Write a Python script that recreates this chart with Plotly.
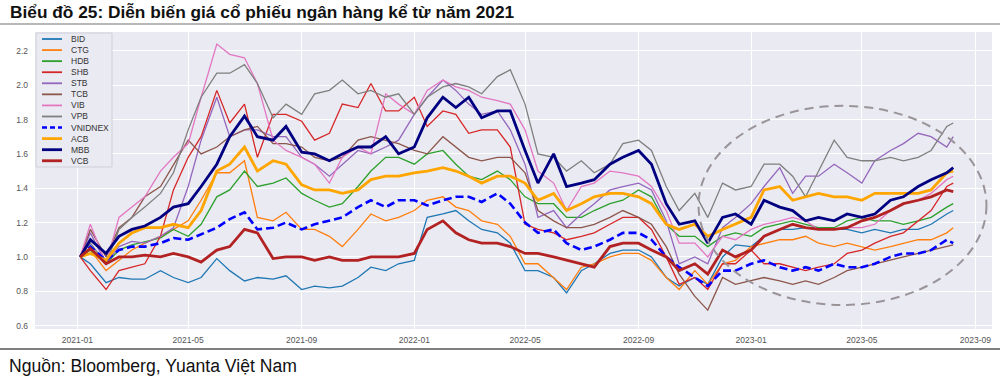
import plotly.graph_objects as go

# ---------------- data (semi-monthly samples) ----------------
dates = ["2021-01-04"]
for _y in (2021, 2022, 2023):
    for _m in range(1, 13):
        for _d in (1, 15):
            if (_y, _m, _d) == (2021, 1, 1):
                continue
            if _y == 2023 and _m > 7:
                continue
            dates.append(f"{_y}-{_m:02d}-{_d:02d}")
dates += ["2023-08-01", "2023-08-08"]

BID = [1.00, 0.96, 0.85, 0.88, 0.87, 0.87, 0.92, 0.88, 0.85, 0.88, 0.99, 0.92, 0.86, 0.88, 0.87, 0.89,
       0.81, 0.83, 0.82, 0.83, 0.88, 0.94, 0.92, 0.96, 0.98, 1.23, 1.25, 1.27, 1.21, 1.16, 1.14, 1.08,
       0.92, 0.92, 0.88, 0.79, 0.92, 0.96, 1.02, 1.04, 1.04, 1.00, 0.88, 0.83, 0.88, 0.84, 1.00, 1.07,
       1.06, 1.12, 1.16, 1.16, 1.17, 1.17, 1.16, 1.16, 1.14, 1.16, 1.14, 1.16, 1.16, 1.19, 1.25, 1.27]
CTG = [1.00, 1.04, 0.92, 0.98, 1.04, 1.08, 1.12, 1.16, 1.21, 1.33, 1.49, 1.49, 1.56, 1.23, 1.21, 1.26,
       1.16, 1.16, 1.12, 1.06, 1.16, 1.25, 1.21, 1.23, 1.27, 1.33, 1.35, 1.29, 1.27, 1.21, 1.19, 1.12,
       0.96, 0.96, 0.88, 0.81, 0.94, 0.96, 1.00, 1.02, 1.02, 0.98, 0.88, 0.81, 0.92, 0.84, 0.96, 0.98,
       1.06, 1.08, 1.10, 1.10, 1.12, 1.08, 1.06, 1.08, 1.06, 1.04, 1.06, 1.08, 1.10, 1.10, 1.14, 1.17]
HDB = [1.00, 1.04, 0.96, 1.04, 1.07, 1.09, 1.11, 1.16, 1.12, 1.19, 1.35, 1.39, 1.50, 1.41, 1.43, 1.46,
       1.37, 1.33, 1.29, 1.31, 1.41, 1.50, 1.58, 1.58, 1.54, 1.60, 1.62, 1.54, 1.47, 1.45, 1.50, 1.45,
       1.35, 1.31, 1.31, 1.23, 1.23, 1.27, 1.31, 1.33, 1.39, 1.35, 1.19, 1.12, 1.12, 1.06, 1.12, 1.14,
       1.12, 1.17, 1.19, 1.21, 1.19, 1.17, 1.17, 1.21, 1.23, 1.21, 1.21, 1.19, 1.21, 1.23, 1.29, 1.31]
SHB = [1.00, 0.92, 0.81, 0.92, 0.94, 0.96, 1.12, 1.39, 1.58, 1.70, 1.97, 1.78, 1.89, 1.58, 1.83, 1.83,
       1.79, 1.68, 1.72, 1.89, 1.87, 2.01, 1.85, 1.85, 1.93, 1.76, 1.85, 1.83, 1.72, 1.74, 1.74, 1.64,
       1.19, 1.16, 1.14, 1.10, 1.12, 1.14, 1.19, 1.23, 1.23, 1.16, 1.00, 0.84, 0.88, 0.81, 0.96, 0.96,
       1.04, 0.96, 0.96, 0.94, 0.92, 0.94, 0.96, 1.02, 1.04, 1.08, 1.12, 1.14, 1.21, 1.27, 1.41, 1.43]
STB = [1.00, 1.14, 0.96, 1.06, 1.09, 1.08, 1.12, 1.17, 1.41, 1.68, 1.93, 1.70, 1.74, 1.74, 1.70, 1.70,
       1.58, 1.54, 1.47, 1.54, 1.62, 1.60, 1.64, 1.68, 1.83, 1.93, 2.03, 1.97, 1.89, 1.83, 1.85, 1.74,
       1.54, 1.23, 1.27, 1.17, 1.25, 1.31, 1.39, 1.41, 1.43, 1.39, 1.21, 0.96, 1.00, 0.96, 1.17, 1.23,
       1.31, 1.41, 1.52, 1.37, 1.47, 1.47, 1.54, 1.49, 1.43, 1.56, 1.62, 1.66, 1.72, 1.70, 1.64, 1.70]
TCB = [1.00, 1.16, 1.00, 1.17, 1.23, 1.35, 1.41, 1.54, 1.68, 1.60, 1.64, 1.70, 1.74, 1.76, 1.66, 1.66,
       1.64, 1.58, 1.56, 1.58, 1.68, 1.70, 1.68, 1.66, 1.62, 1.60, 1.70, 1.64, 1.58, 1.56, 1.58, 1.58,
       1.49, 1.27, 1.21, 1.17, 1.17, 1.19, 1.23, 1.27, 1.23, 1.19, 1.06, 0.90, 0.77, 0.69, 0.88, 0.84,
       0.86, 0.88, 0.86, 0.84, 0.86, 0.84, 0.88, 0.92, 0.94, 0.96, 0.98, 1.00, 1.02, 1.04, 1.06, 1.07]
VIB = [1.00, 1.19, 0.96, 1.23, 1.29, 1.35, 1.50, 1.58, 1.66, 1.93, 2.24, 2.18, 2.16, 2.01, 1.68, 1.62,
       1.58, 1.54, 1.43, 1.58, 1.64, 1.60, 1.95, 1.89, 1.83, 1.97, 2.03, 1.99, 1.97, 1.93, 1.91, 1.89,
       1.74, 1.50, 1.43, 1.27, 1.41, 1.43, 1.50, 1.49, 1.47, 1.41, 1.27, 1.08, 1.08, 1.00, 1.12, 1.10,
       1.16, 1.19, 1.21, 1.23, 1.21, 1.16, 1.16, 1.17, 1.17, 1.19, 1.27, 1.31, 1.33, 1.37, 1.45, 1.47]
VPB = [1.00, 1.08, 0.96, 1.16, 1.23, 1.29, 1.37, 1.49, 1.74, 1.93, 2.07, 2.07, 2.12, 2.01, 1.81, 1.89,
       1.83, 1.95, 1.97, 2.03, 1.95, 1.97, 1.93, 1.95, 1.83, 1.93, 1.99, 2.01, 1.99, 1.95, 2.05, 2.09,
       1.89, 1.60, 1.58, 1.50, 1.56, 1.49, 1.54, 1.66, 1.68, 1.62, 1.41, 1.27, 1.37, 1.23, 1.43, 1.39,
       1.41, 1.54, 1.54, 1.47, 1.35, 1.50, 1.68, 1.58, 1.56, 1.56, 1.58, 1.56, 1.58, 1.62, 1.76, 1.78]
VNIDNEX = [1.00, 1.06, 0.98, 1.04, 1.06, 1.06, 1.08, 1.11, 1.10, 1.13, 1.17, 1.22, 1.26, 1.16, 1.17, 1.20,
           1.16, 1.19, 1.21, 1.23, 1.29, 1.33, 1.29, 1.33, 1.33, 1.30, 1.33, 1.35, 1.35, 1.32, 1.37, 1.31,
           1.20, 1.14, 1.16, 1.08, 1.04, 1.06, 1.10, 1.14, 1.14, 1.10, 1.00, 0.94, 0.88, 0.83, 0.92, 0.92,
           0.96, 0.98, 0.94, 0.92, 0.94, 0.92, 0.96, 0.94, 0.94, 0.96, 1.00, 1.02, 1.02, 1.04, 1.10, 1.08]
ACB = [1.00, 1.02, 0.98, 1.08, 1.14, 1.17, 1.17, 1.19, 1.17, 1.27, 1.50, 1.54, 1.64, 1.50, 1.56, 1.54,
       1.42, 1.39, 1.39, 1.37, 1.39, 1.45, 1.47, 1.47, 1.49, 1.50, 1.52, 1.50, 1.47, 1.43, 1.47, 1.47,
       1.43, 1.33, 1.37, 1.27, 1.31, 1.35, 1.37, 1.37, 1.35, 1.31, 1.19, 1.16, 1.19, 1.12, 1.16, 1.19,
       1.23, 1.39, 1.41, 1.33, 1.35, 1.37, 1.35, 1.35, 1.33, 1.37, 1.37, 1.37, 1.37, 1.39, 1.49, 1.50]
MBB = [1.00, 1.10, 1.02, 1.12, 1.16, 1.18, 1.23, 1.29, 1.31, 1.41, 1.54, 1.70, 1.82, 1.70, 1.68, 1.76,
       1.61, 1.60, 1.56, 1.60, 1.64, 1.64, 1.70, 1.60, 1.64, 1.81, 1.93, 1.87, 1.93, 1.81, 1.85, 1.85,
       1.62, 1.43, 1.60, 1.41, 1.43, 1.45, 1.54, 1.58, 1.62, 1.54, 1.31, 1.19, 1.21, 1.08, 1.23, 1.25,
       1.19, 1.33, 1.29, 1.27, 1.21, 1.23, 1.21, 1.25, 1.23, 1.25, 1.33, 1.35, 1.41, 1.45, 1.49, 1.52]
VCB = [1.00, 1.05, 0.96, 1.00, 1.00, 1.01, 1.00, 1.02, 1.00, 0.97, 1.04, 1.06, 1.16, 1.14, 0.99, 1.00,
       1.00, 0.98, 1.00, 0.98, 0.98, 1.00, 1.00, 1.00, 1.02, 1.16, 1.21, 1.14, 1.10, 1.08, 1.08, 1.06,
       1.02, 1.02, 1.00, 0.98, 0.96, 0.94, 1.06, 1.08, 1.08, 1.04, 1.00, 0.92, 0.96, 0.90, 1.04, 1.00,
       1.04, 1.12, 1.16, 1.19, 1.17, 1.16, 1.16, 1.17, 1.21, 1.23, 1.27, 1.31, 1.33, 1.35, 1.39, 1.38]

names = ["BID", "CTG", "HDB", "SHB", "STB", "TCB", "VIB", "VPB", "VNIDNEX", "ACB", "MBB", "VCB"]
series = [BID, CTG, HDB, SHB, STB, TCB, VIB, VPB, VNIDNEX, ACB, MBB, VCB]
colors = ["#1f77b4", "#ff7f0e", "#2ca02c", "#d62728", "#9467bd", "#8c564b",
          "#e377c2", "#7f7f7f", "#0000ff", "#ffa500", "#000080", "#b22222"]
widths = [1.3, 1.3, 1.3, 1.3, 1.3, 1.3, 1.3, 1.3, 2.6, 2.8, 2.8, 2.8]
dashes = ["solid"] * 8 + ["8px,4px"] + ["solid"] * 3

TITLE = "Biểu đồ 25: Diễn biến giá cổ phiếu ngân hàng kể từ năm 2021"
SOURCE = "Nguồn: Bloomberg, Yuanta Việt Nam"

# ---------------- figure ----------------
W, H = 1000, 381
L, R, T, B = 35, 8, 32, 52
pw, ph = W - L - R, H - T - B


def px(xp):
    return (xp - L) / pw


def py(yp):
    return (H - B - yp) / ph


fig = go.Figure()
for n, s, c, w, d in zip(names, series, colors, widths, dashes):
    fig.add_trace(go.Scatter(x=dates, y=s, mode="lines", name=n, showlegend=False,
                             line=dict(color=c, width=w, dash=d)))

shapes = [
    # highlight ellipse
    dict(type="circle", xref="x", yref="y", x0="2022-11-05", x1="2023-09-13", y0=0.72, y1=1.88,
         line=dict(color="#9a9498", width=2, dash="9px,6px"), layer="above"),
    # rules above and below the chart
    dict(type="line", xref="paper", yref="paper", x0=px(0), x1=px(W), y0=py(24), y1=py(24),
         line=dict(color="#b8b8b8", width=2)),
    dict(type="line", xref="paper", yref="paper", x0=px(0), x1=px(W), y0=py(349), y1=py(349),
         line=dict(color="#555555", width=1.5)),
    # legend frame
    dict(type="rect", xref="paper", yref="paper", x0=px(36), x1=px(112), y0=py(167), y1=py(33),
         fillcolor="#eaeaf2", line=dict(color="#d0d0d8", width=1), layer="above"),
]
annotations = [
    dict(text="<b>" + TITLE + "</b>", xref="paper", yref="paper", x=px(8), y=py(12),
         xanchor="left", yanchor="middle", showarrow=False,
         font=dict(family="Liberation Sans, Arial", size=17.3, color="#111111")),
    dict(text=SOURCE, xref="paper", yref="paper", x=px(7), y=py(366),
         xanchor="left", yanchor="middle", showarrow=False,
         font=dict(family="Liberation Sans, Arial", size=17.6, color="#111111")),
]
for i, (n, c, w, d) in enumerate(zip(names, colors, widths, dashes)):
    yc = 39 + i * 11.07
    shapes.append(dict(type="line", xref="paper", yref="paper", x0=px(42), x1=px(62),
                       y0=py(yc), y1=py(yc), layer="above",
                       line=dict(color=c, width=max(w, 1.8), dash="5px,3px" if d != "solid" else "solid")))
    annotations.append(dict(text=n, xref="paper", yref="paper", x=px(69), y=py(yc),
                            xanchor="left", yanchor="middle", showarrow=False,
                            font=dict(family="Liberation Sans, Arial", size=8.5, color="#333333")))

fig.update_layout(
    width=W, height=H,
    margin=dict(l=L, r=R, t=T, b=B, autoexpand=False),
    paper_bgcolor="white",
    plot_bgcolor="#eaeaf2",
    font=dict(family="Liberation Sans, Arial", size=8.5, color="#555555"),
    shapes=shapes,
    annotations=annotations,
    showlegend=False,
)
fig.update_xaxes(type="date", range=["2020-11-16", "2023-09-19"], tick0="2021-01-01", dtick="M4",
                 tickformat="%Y-%m", showgrid=True, gridcolor="white", gridwidth=1,
                 zeroline=False, showline=False, ticks="", ticklabelstandoff=4, automargin=False)
fig.update_yaxes(range=[0.58, 2.31], tickvals=[0.6, 0.8, 1.0, 1.2, 1.4, 1.6, 1.8, 2.0, 2.2],
                 ticktext=["0.6", "0.8", "1.0", "1.2", "1.4", "1.6", "1.8", "2.0", "2.2"],
                 showgrid=True, gridcolor="white", gridwidth=1, zeroline=False, showline=False,
                 ticks="", ticklabelstandoff=6, automargin=False)

fig.write_html("out.html", config={"displayModeBar": False},
               post_script="document.body.style.margin='0px';document.body.style.overflow='hidden';")
